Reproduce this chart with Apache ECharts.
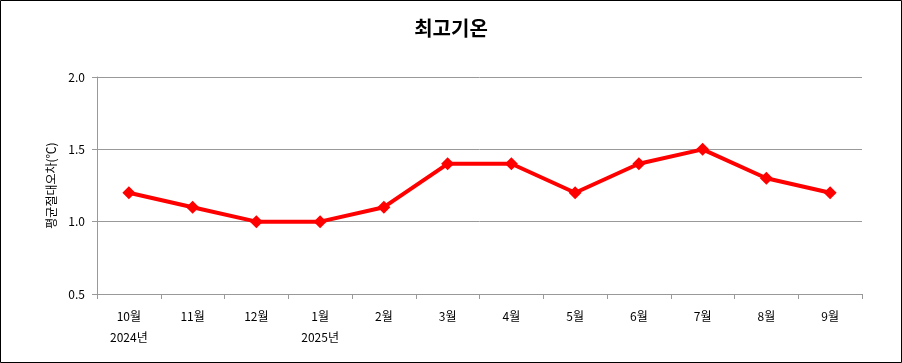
<!DOCTYPE html>
<html><head><meta charset="utf-8">
<script src="https://cdn.jsdelivr.net/npm/echarts@6/dist/echarts.min.js"></script>
<style>html,body{margin:0;padding:0;background:#fff}#c{width:902px;height:363px}</style>
</head><body><div id="c"></div>
<script>
const categories = ['10월','11월','12월','1월','2월','3월','4월','5월','6월','7월','8월','9월'];
const yearLabels = {'10월':'2024년','1월':'2025년'};
const values = [1.2,1.1,1.0,1.0,1.1,1.4,1.4,1.2,1.4,1.5,1.3,1.2];
const yTicks = {min:0.5,max:2.0,interval:0.5};
const font = '"Noto Sans CJK KR", "Noto Sans", sans-serif';
const chart = echarts.init(document.getElementById('c'));
chart.setOption({
  animation:false,
  title:{text:'최고기온',left:'center',top:13,textStyle:{fontFamily:font,fontSize:20,fontWeight:'bold',color:'#000'}},
  graphic:[{type:'rect',shape:{x:0.5,y:0.5,width:901,height:362},style:{fill:'none',stroke:'#000',lineWidth:1}}],
  grid:{left:97,right:40,top:77,bottom:69},
  xAxis:{type:'category',data:categories,boundaryGap:true,
    axisLine:{lineStyle:{color:'#999',width:1}},
    axisTick:{show:true,alignWithLabel:false,length:5,lineStyle:{color:'#999'}},
    axisLabel:{fontFamily:font,fontSize:12,color:'#000',margin:12,lineHeight:21,
      formatter:function(v){return yearLabels[v]? v+'\n'+yearLabels[v] : v;}}},
  yAxis:{type:'value',min:yTicks.min,max:yTicks.max,interval:yTicks.interval,
    name:'평균절대오차(℃)',nameLocation:'middle',nameGap:38,nameRotate:90,
    nameTextStyle:{fontFamily:font,fontSize:12,color:'#000'},
    axisLine:{show:true,lineStyle:{color:'#999'}},
    axisTick:{show:true,length:5,lineStyle:{color:'#999'}},
    splitLine:{lineStyle:{color:'#999'}},
    axisLabel:{fontFamily:font,fontSize:12,color:'#000',margin:12,formatter:v=>v.toFixed(1)}},
  series:[{type:'line',data:values,symbol:'diamond',symbolSize:13,
    lineStyle:{color:'#ff0000',width:4},itemStyle:{color:'#ff0000'}}]
});
</script></body></html>
